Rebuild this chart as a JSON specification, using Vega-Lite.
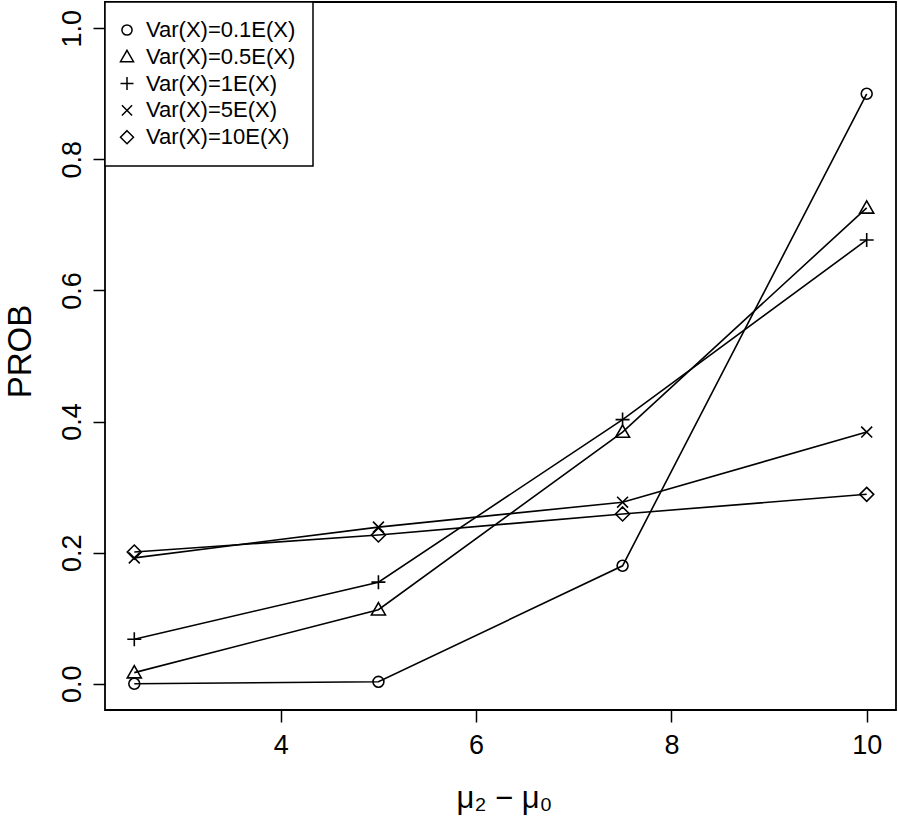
{
  "$schema": "https://vega.github.io/schema/vega-lite/v6.json",
  "width": 791,
  "height": 708,
  "autosize": {"type": "none"},
  "padding": {"left": 105, "top": 2, "right": 2, "bottom": 110},
  "background": "white",
  "data": {
    "values": [
      {"d": 2.5, "p": 0.000, "s": "Var(X)=0.1E(X)"},
      {"d": 5.0, "p": 0.003, "s": "Var(X)=0.1E(X)"},
      {"d": 7.5, "p": 0.180, "s": "Var(X)=0.1E(X)"},
      {"d": 10.0, "p": 0.900, "s": "Var(X)=0.1E(X)"},
      {"d": 2.5, "p": 0.017, "s": "Var(X)=0.5E(X)"},
      {"d": 5.0, "p": 0.113, "s": "Var(X)=0.5E(X)"},
      {"d": 7.5, "p": 0.384, "s": "Var(X)=0.5E(X)"},
      {"d": 10.0, "p": 0.726, "s": "Var(X)=0.5E(X)"},
      {"d": 2.5, "p": 0.068, "s": "Var(X)=1E(X)"},
      {"d": 5.0, "p": 0.155, "s": "Var(X)=1E(X)"},
      {"d": 7.5, "p": 0.403, "s": "Var(X)=1E(X)"},
      {"d": 10.0, "p": 0.677, "s": "Var(X)=1E(X)"},
      {"d": 2.5, "p": 0.192, "s": "Var(X)=5E(X)"},
      {"d": 5.0, "p": 0.239, "s": "Var(X)=5E(X)"},
      {"d": 7.5, "p": 0.277, "s": "Var(X)=5E(X)"},
      {"d": 10.0, "p": 0.384, "s": "Var(X)=5E(X)"},
      {"d": 2.5, "p": 0.201, "s": "Var(X)=10E(X)"},
      {"d": 5.0, "p": 0.227, "s": "Var(X)=10E(X)"},
      {"d": 7.5, "p": 0.259, "s": "Var(X)=10E(X)"},
      {"d": 10.0, "p": 0.289, "s": "Var(X)=10E(X)"}
    ]
  },
  "encoding": {
    "x": {
      "field": "d", "type": "quantitative",
      "scale": {"domain": [2.2, 10.3], "nice": false, "zero": false},
      "axis": {
        "values": [4, 6, 8, 10], "format": "d",
        "title": "μ₂ − μ₀",
        "titleFontSize": 31, "titleFontWeight": "normal",
        "titleX": 399, "titleY": 97, "titleBaseline": "alphabetic", "titleAlign": "center",
        "labelFontSize": 27, "labelPadding": 10
      }
    },
    "y": {
      "field": "p", "type": "quantitative",
      "scale": {"domain": [-0.04, 1.04], "nice": false, "zero": false},
      "axis": {
        "values": [0, 0.2, 0.4, 0.6, 0.8, 1.0], "format": ".1f",
        "title": "PROB",
        "titleFontSize": 33, "titleFontWeight": "normal",
        "titleAngle": -90, "titleX": -75, "titleY": 349, "titleBaseline": "alphabetic", "titleAlign": "center",
        "labelFontSize": 27, "labelAngle": -90, "labelAlign": "center", "labelBaseline": "alphabetic", "labelPadding": 13
      }
    }
  },
  "layer": [
    {
      "mark": {"type": "line", "color": "black", "strokeWidth": 1.6},
      "encoding": {"detail": {"field": "s"}}
    },
    {
      "mark": {"type": "point", "filled": false, "color": "black", "strokeWidth": 1.6, "size": 196, "opacity": 1},
      "encoding": {
        "shape": {
          "field": "s", "type": "nominal",
          "scale": {
            "domain": ["Var(X)=0.1E(X)", "Var(X)=0.5E(X)", "Var(X)=1E(X)", "Var(X)=5E(X)", "Var(X)=10E(X)"],
            "range": [
              "M0.78,0A0.78,0.78 0 1,1 -0.78,0A0.78,0.78 0 1,1 0.78,0Z",
              "M0,-1L1,0.75L-1,0.75Z",
              "M-1,0L1,0M0,-1L0,1",
              "M-0.78,-0.78L0.78,0.78M-0.78,0.78L0.78,-0.78",
              "M0,-1L1,0L0,1L-1,0Z"
            ]
          },
          "legend": {
            "title": null,
            "orient": "top-left",
            "offset": 0
          }
        }
      }
    }
  ],
  "config": {
    "font": "Liberation Sans",
    "view": {"stroke": "black", "strokeWidth": 1.8},
    "axis": {
      "grid": false, "domain": false,
      "tickColor": "black", "tickWidth": 1.5, "tickSize": 12,
      "labelColor": "black", "titleColor": "black",
      "labelFont": "Liberation Sans", "titleFont": "Liberation Sans",
      "labelOverlap": false, "labelFlush": false
    },
    "legend": {
      "labelFont": "Liberation Sans", "labelFontSize": 22, "labelColor": "black",
      "labelLimit": 0,
      "symbolSize": 170, "symbolStrokeWidth": 1.5, "symbolStrokeColor": "black", "symbolFillColor": "transparent",
      "symbolOffset": -6,
      "labelOffset": 8,
      "rowPadding": 4.8,
      "padding": 17,
      "strokeColor": "black", "strokeWidth": 1.5, "fillColor": "white",
      "cornerRadius": 0
    }
  }
}
